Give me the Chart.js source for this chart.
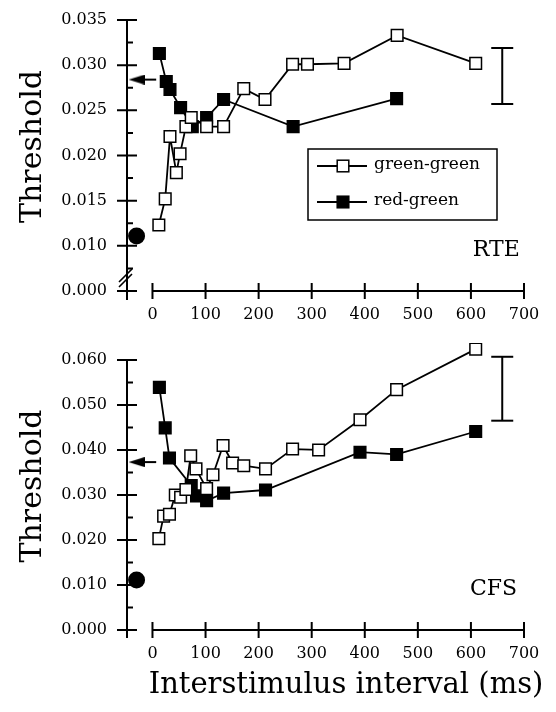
<!DOCTYPE html>
<html>
<head>
<meta charset="utf-8">
<script src="https://cdn.jsdelivr.net/npm/chart.js@4.4.0/dist/chart.umd.min.js"></script>
<style>
    html, body { margin: 0; padding: 0; background: #fff; }
    .panel { position: absolute; left: 0; width: 556px; }
    #top { top: 0; height: 330px; }
    #bottom { top: 330px; height: 382px; }
</style>
</head>
<body>
<div class="panel" id="top"><canvas id="rte"></canvas></div>
<div class="panel" id="bottom"><canvas id="cfs"></canvas></div>
<script>
// Shared x axis (interstimulus interval, ms)
const xTicks = [0, 100, 200, 300, 400, 500, 600, 700];

// RTE panel - axis is broken, bottom tick stands for 0.000
const rteYTicks = [0.005, 0.010, 0.015, 0.020, 0.025, 0.030, 0.035];
const rteYLabels = ['0.000', '0.010', '0.015', '0.020', '0.025', '0.030', '0.035'];
const rteGreenX = [12, 24, 33, 45, 52, 63, 73, 102, 134, 172, 212, 264, 292, 361, 461, 609];
const rteGreenY = [0.0123, 0.0152, 0.0221, 0.0181, 0.0202, 0.0232, 0.0242, 0.0232, 0.0232, 0.0274, 0.0262, 0.0301, 0.0301, 0.0302, 0.0333, 0.0302];
const rteRedX = [13, 26, 33, 53, 75, 102, 134, 265, 460];
const rteRedY = [0.0313, 0.0282, 0.0273, 0.0253, 0.0232, 0.0242, 0.0262, 0.0232, 0.0263];
const rteArrow = 0.0284;
const rteSingle = 0.0111;
const rteErr = [0.0257, 0.0319];

// CFS panel
const cfsYTicks = [0.000, 0.010, 0.020, 0.030, 0.040, 0.050, 0.060];
const cfsYLabels = ['0.000', '0.010', '0.020', '0.030', '0.040', '0.050', '0.060'];
const cfsGreenX = [12, 21, 32, 43, 53, 63, 72, 82, 102, 114, 133, 151, 172, 213, 264, 313, 391, 460, 609];
const cfsGreenY = [0.0203, 0.0253, 0.0257, 0.0300, 0.0295, 0.0312, 0.0387, 0.0358, 0.0314, 0.0345, 0.0410, 0.0371, 0.0365, 0.0358, 0.0402, 0.0400, 0.0467, 0.0534, 0.0624];
const cfsRedX = [13, 24, 32, 73, 83, 102, 134, 213, 391, 460, 609];
const cfsRedY = [0.0539, 0.0449, 0.0382, 0.0321, 0.0298, 0.0287, 0.0304, 0.0311, 0.0395, 0.0390, 0.0441];
const cfsArrow = 0.0373;
const cfsSingle = 0.0111;
const cfsErr = [0.0465, 0.0607];

// where the arrow, single point and error bar sit along x
const arrowX = [-30, 7];
const singleX = -30;
const errX = 659;

const SERIF = "'DejaVu Serif', serif";

// arrow head used as a point image (tip on the left)
const arrowHead = document.createElement('canvas');
arrowHead.width = 16;
arrowHead.height = 10;
(function () {
    const c = arrowHead.getContext('2d');
    c.fillStyle = '#000';
    c.beginPath();
    c.moveTo(0, 5);
    c.lineTo(16, 0);
    c.lineTo(16, 10);
    c.closePath();
    c.fill();
})();

const zip = (xs, ys) => xs.map((x, i) => ({ x: x, y: ys[i] }));

function seriesSet(label, xs, ys, fill) {
    return {
        label: label,
        data: zip(xs, ys),
        showLine: true,
        borderColor: '#000',
        borderWidth: 1.8,
        pointStyle: 'rect',
        pointRadius: 8.2,
        pointBackgroundColor: fill,
        pointBorderColor: '#000',
        pointBorderWidth: 1.5
    };
}

// Axis lines, crossing ticks, titles, legend and panel label
const axisDecor = {
    id: 'axisDecor',
    beforeDatasetsDraw(chart, args, opts) {
        const { ctx, chartArea: a, scales: { x, y } } = chart;
        const yt = y.ticks.map(t => t.value);
        ctx.save();
        ctx.strokeStyle = '#000';
        ctx.lineWidth = 2;
        ctx.beginPath();
        ctx.moveTo(a.left, y.getPixelForValue(yt[yt.length - 1]));
        ctx.lineTo(a.left, a.bottom + opts.tail);
        yt.forEach(v => {
            const py = y.getPixelForValue(v);
            ctx.moveTo(a.left - 10, py);
            ctx.lineTo(a.left + 10, py);
        });
        for (let i = 0; i < yt.length - 1; i++) {
            const py = y.getPixelForValue((yt[i] + yt[i + 1]) / 2);
            ctx.moveTo(a.left, py);
            ctx.lineTo(a.left + 6, py);
        }
        const x0 = x.getPixelForValue(xTicks[0]);
        const x1 = x.getPixelForValue(xTicks[xTicks.length - 1]);
        ctx.moveTo(x0, a.bottom);
        ctx.lineTo(x1, a.bottom);
        xTicks.forEach(v => {
            const px = x.getPixelForValue(v);
            ctx.moveTo(px, a.bottom - 8);
            ctx.lineTo(px, a.bottom + 8);
        });
        ctx.stroke();
        if (opts.axisBreak) {
            ctx.lineWidth = 1.6;
            ctx.beginPath();
            ctx.moveTo(a.left - 8, a.bottom - 9);
            ctx.lineTo(a.left + 5, a.bottom - 22);
            ctx.moveTo(a.left - 8, a.bottom - 4);
            ctx.lineTo(a.left + 5, a.bottom - 17);
            ctx.stroke();
        }
        ctx.restore();
    },
    afterDraw(chart, args, opts) {
        const { ctx, chartArea: a, scales: { x, y } } = chart;
        const yt = y.ticks.map(t => t.value);
        const yTop = y.getPixelForValue(yt[yt.length - 1]);

        // y title
        ctx.save();
        ctx.fillStyle = '#000';
        ctx.font = '30px ' + SERIF;
        ctx.textAlign = 'center';
        ctx.textBaseline = 'alphabetic';
        ctx.translate(a.left - 86, (yTop + a.bottom) / 2 - 9);
        ctx.rotate(-Math.PI / 2);
        ctx.fillText('Threshold', 0, 0);
        ctx.restore();

        ctx.save();
        ctx.fillStyle = '#000';

        // panel name
        ctx.font = '22px ' + SERIF;
        ctx.textAlign = 'right';
        ctx.textBaseline = 'alphabetic';
        ctx.fillText(opts.name, x.getPixelForValue(opts.nameAt[0]), y.getPixelForValue(opts.nameAt[1]));

        // x title
        if (opts.xTitle) {
            ctx.font = '29px ' + SERIF;
            ctx.textAlign = 'center';
            ctx.fillText(opts.xTitle, 346, a.bottom + 63);
        }

        // legend box
        if (opts.legend) {
            const L = opts.legend;
            ctx.lineWidth = 1.5;
            ctx.strokeStyle = '#000';
            ctx.strokeRect(L.left, L.top, L.width, L.height);
            ctx.font = '17px ' + SERIF;
            ctx.textAlign = 'left';
            ctx.textBaseline = 'middle';
            L.rows.forEach((dsIndex, r) => {
                const ds = chart.data.datasets[dsIndex];
                const cy = L.top + 17 + r * 36;
                ctx.lineWidth = ds.borderWidth;
                ctx.beginPath();
                ctx.moveTo(L.left + 9, cy);
                ctx.lineTo(L.left + 59, cy);
                ctx.stroke();
                const s = 11.6;
                const cx = L.left + 35;
                ctx.fillStyle = ds.pointBackgroundColor;
                ctx.fillRect(cx - s / 2, cy - s / 2, s, s);
                ctx.lineWidth = ds.pointBorderWidth;
                ctx.strokeRect(cx - s / 2, cy - s / 2, s, s);
                ctx.fillStyle = '#000';
                ctx.fillText(ds.label, L.left + 66, cy - 1);
            });
        }
        ctx.restore();
    }
};

function makePanel(canvasId, p) {
    const datasets = [
        seriesSet('green-green', p.greenX, p.greenY, '#fff'),
        seriesSet('red-green', p.redX, p.redY, '#000'),
        {
            label: 'arrow',
            data: zip(arrowX, [p.arrow, p.arrow]),
            showLine: true,
            borderColor: '#000',
            borderWidth: 2,
            pointStyle: [arrowHead, 'circle'],
            pointRadius: [5, 0]
        },
        {
            label: 'single',
            data: [{ x: singleX, y: p.single }],
            pointStyle: 'circle',
            pointRadius: 8.5,
            pointBackgroundColor: '#000',
            pointBorderColor: '#000',
            pointBorderWidth: 0
        },
        {
            label: 'error',
            data: zip([errX, errX], p.err),
            showLine: true,
            borderColor: '#000',
            borderWidth: 2,
            pointStyle: 'line',
            pointRadius: 11,
            pointBorderColor: '#000',
            pointBorderWidth: 2
        }
    ];

    return new Chart(document.getElementById(canvasId), {
        type: 'scatter',
        data: { datasets: datasets },
        options: {
            responsive: true,
            maintainAspectRatio: false,
            animation: false,
            events: [],
            layout: { padding: { top: p.padTop, right: 32, left: 0, bottom: 0 } },
            plugins: {
                legend: { display: false },
                tooltip: { enabled: false },
                axisDecor: {
                    tail: p.tail,
                    axisBreak: p.axisBreak,
                    name: p.name,
                    nameAt: p.nameAt,
                    xTitle: p.xTitle,
                    legend: p.legend
                }
            },
            scales: {
                x: {
                    type: 'linear',
                    min: -48,
                    max: 700,
                    grid: { display: false, drawTicks: false },
                    border: { display: false },
                    afterBuildTicks: s => { s.ticks = xTicks.map(v => ({ value: v })); },
                    afterFit: s => {
                        s.height = p.xHeight;
                        s.paddingLeft = 0;
                        s.paddingRight = 0;
                    },
                    ticks: {
                        font: { family: SERIF, size: 16 },
                        color: '#000',
                        padding: 14,
                        maxRotation: 0,
                        autoSkip: false
                    }
                },
                y: {
                    type: 'linear',
                    min: p.yTicks[0],
                    max: p.yMax,
                    grid: { display: false, drawTicks: false },
                    border: { display: false },
                    afterBuildTicks: s => { s.ticks = p.yTicks.map(v => ({ value: v })); },
                    afterFit: s => {
                        s.width = 127;
                        s.paddingTop = 0;
                        s.paddingBottom = 0;
                    },
                    ticks: {
                        font: { family: SERIF, size: 16 },
                        color: '#000',
                        padding: 20,
                        callback: (v, i) => p.yLabels[i]
                    }
                }
            }
        },
        plugins: [axisDecor]
    });
}

makePanel('rte', {
    greenX: rteGreenX, greenY: rteGreenY,
    redX: rteRedX, redY: rteRedY,
    arrow: rteArrow, single: rteSingle, err: rteErr,
    yTicks: rteYTicks, yLabels: rteYLabels, yMax: 0.035,
    padTop: 20, xHeight: 39, tail: 9, axisBreak: true,
    name: 'RTE', nameAt: [692, 0.0089],
    legend: { left: 308, top: 149, width: 189, height: 71, rows: [0, 1] }
});

makePanel('cfs', {
    greenX: cfsGreenX, greenY: cfsGreenY,
    redX: cfsRedX, redY: cfsRedY,
    arrow: cfsArrow, single: cfsSingle, err: cfsErr,
    yTicks: cfsYTicks, yLabels: cfsYLabels, yMax: 0.06376,
    padTop: 12, xHeight: 82, tail: 8, axisBreak: false,
    name: 'CFS', nameAt: [687, 0.0077],
    xTitle: 'Interstimulus interval (ms)'
});
</script>
</body>
</html>
